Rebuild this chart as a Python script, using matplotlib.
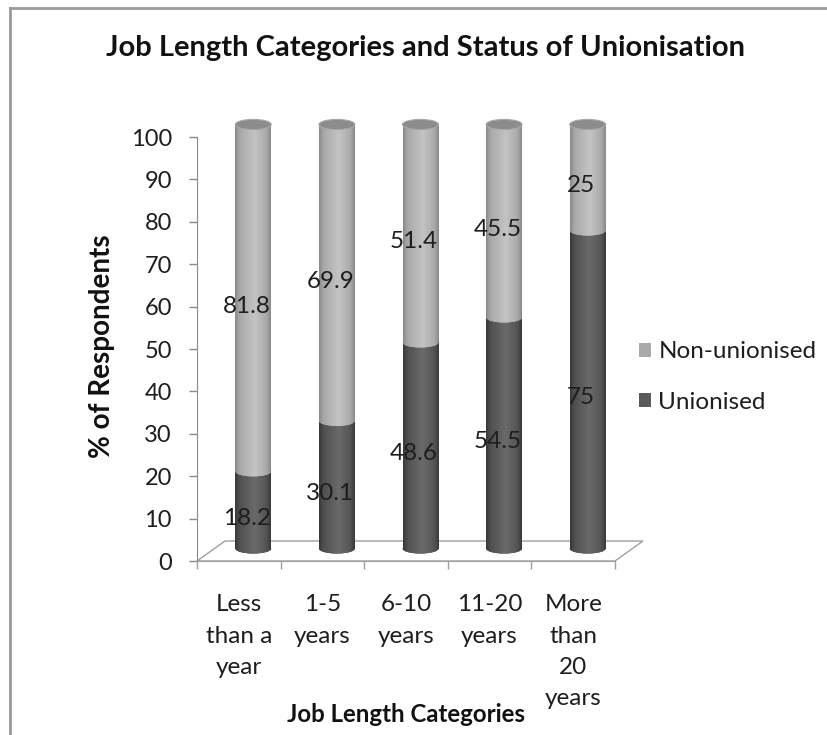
import numpy as np
import matplotlib
matplotlib.use("Agg")
import matplotlib.pyplot as plt
from matplotlib.patches import Ellipse, Patch, Polygon
from matplotlib.colors import LinearSegmentedColormap
from matplotlib.transforms import offset_copy
from matplotlib.lines import Line2D

# data
categories = ["Less\nthan a\nyear", "1-5\nyears", "6-10\nyears", "11-20\nyears", "More\nthan\n20\nyears"]
unionised = [18.2, 30.1, 48.6, 54.5, 75.0]
non_unionised = [81.8, 69.9, 51.4, 45.5, 25.0]
series_names = ["Non-unionised", "Unionised"]
yticks = list(range(0, 101, 10))

plt.rcParams['font.family'] = ['Lato', 'DejaVu Sans']

W, H = 827, 735
fig = plt.figure(figsize=(W / 100, H / 100), dpi=100)
ax = fig.add_axes([197 / W, 1 - 561 / H, 418 / W, 424 / H])

x = np.arange(len(categories))
ax.set_xlim(-0.5, len(categories) - 0.5)
ax.set_ylim(0, 100)

# 3d depth offsets (pixels)
cyl = offset_copy(ax.transData, fig=fig, x=14.5, y=12.5, units='dots')
back = offset_copy(ax.transData, fig=fig, x=28, y=20, units='dots')
lab = offset_copy(ax.transData, fig=fig, x=8, y=4, units='dots')

light_cm = LinearSegmentedColormap.from_list(
    "l", [(0, "#8a8a8a"), (0.12, "#a8a8a8"), (0.55, "#c4c4c4"), (0.88, "#aaaaaa"), (1, "#8a8a8a")])
dark_cm = LinearSegmentedColormap.from_list(
    "d", [(0, "#383838"), (0.12, "#505050"), (0.55, "#6a6a6a"), (0.88, "#545454"), (1, "#3a3a3a")])
grad = np.linspace(0, 1, 64).reshape(1, -1)

bw = 0.43
eh = 2.4
fs = 17.5


def shade(patch, x0, x1, y0, y1, cmap, z):
    im = ax.imshow(grad, extent=[x0, x1, y0, y1], aspect='auto', cmap=cmap,
                   transform=cyl, zorder=z, interpolation='bilinear')
    im.set_clip_box(fig.bbox)
    im.set_clip_path(patch)


# floor
floor_pts = [ax.transData.transform((-0.5, 0)), ax.transData.transform((4.5, 0)),
             back.transform((4.5, 0)), back.transform((-0.5, 0))]
ax.add_patch(Polygon(floor_pts, closed=True, transform=None, facecolor='white',
                     edgecolor='#a0a0a0', lw=1.0, zorder=0.5, clip_on=False))

# cylinders
bars_u = ax.bar(x, unionised, width=bw, color='#555555', transform=cyl, zorder=2, lw=0,
                clip_on=False)
bars_n = ax.bar(x, non_unionised, bottom=unionised, width=bw, color='#b5b5b5',
                transform=cyl, zorder=3, lw=0, clip_on=False)
for i in range(len(x)):
    xi, u = x[i], unionised[i]
    top = u + non_unionised[i]
    e0 = Ellipse((xi, 0), bw, eh, transform=cyl, facecolor='#555555', lw=0, zorder=1,
                 clip_on=False)
    ax.add_patch(e0)
    shade(e0, xi - bw / 2, xi + bw / 2, -eh, eh, dark_cm, 1.1)
    shade(bars_u[i], xi - bw / 2, xi + bw / 2, 0, u, dark_cm, 2.1)
    em = Ellipse((xi, u), bw, eh, transform=cyl, facecolor='#b5b5b5', lw=0, zorder=3,
                 clip_on=False)
    ax.add_patch(em)
    shade(em, xi - bw / 2, xi + bw / 2, u - eh, u + eh, light_cm, 3.1)
    shade(bars_n[i], xi - bw / 2, xi + bw / 2, u, top, light_cm, 3.1)
    ax.add_patch(Ellipse((xi, top), bw, eh, transform=cyl, facecolor='#8c8c8c',
                         edgecolor='#a8a8a8', lw=0.8, zorder=4, clip_on=False))

# data labels
for i in range(len(x)):
    u = unionised[i]
    ax.text(x[i], u / 2, f"{u:g}", transform=lab, ha='center', va='center',
            fontsize=fs, color='#1e1e1e', zorder=6)
    ax.text(x[i], u + non_unionised[i] / 2, f"{non_unionised[i]:g}", transform=lab,
            ha='center', va='center', fontsize=fs, color='#1e1e1e', zorder=6)

# axes styling
for s in ['top', 'right']:
    ax.spines[s].set_visible(False)
ax.spines['left'].set_color('#8a8a8a')
ax.spines['bottom'].set_color('#a0a0a0')
ax.set_yticks(yticks)
ax.tick_params(axis='y', length=6, width=1, color='#8a8a8a', pad=12, labelsize=17,
               labelcolor='#1e1e1e')
ax.set_xticks(x)
ax.set_xticklabels(categories, linespacing=1.6)
ax.set_xticks(np.arange(-0.5, len(categories)), minor=True)
ax.tick_params(axis='x', which='major', length=0, pad=24, labelsize=fs, labelcolor='#1e1e1e')
ax.tick_params(axis='x', which='minor', length=6, width=1, color='#a0a0a0')
ax.patch.set_visible(False)

# titles
fig.text(426 / W, 1 - 48 / H, "Job Length Categories and Status of Unionisation",
         ha='center', va='center', fontsize=21, fontweight='bold', color='#111111')
fig.text(406 / W, 1 - 715 / H, "Job Length Categories", ha='center', va='center',
         fontsize=17.3, fontweight='bold', color='#111111')
fig.text(102 / W, 1 - 346 / H, "% of Respondents", ha='center', va='center',
         rotation=90, fontsize=20, fontweight='bold', color='#111111')

# legend
handles = [Patch(facecolor='#a9a9a9', edgecolor='none'),
           Patch(facecolor='#5a5a5a', edgecolor='none')]
fig.legend(handles, series_names, loc='center left', bbox_to_anchor=(617 / W, 1 - 377 / H),
           frameon=False, fontsize=fs, handlelength=0.5, handleheight=0.5,
           handletextpad=0.3, labelspacing=1.2, labelcolor='#1e1e1e')

# chart border
fig.add_artist(Line2D([10 / W, 10 / W], [0, 1 - 8 / H], color='#9a9a9a', lw=2))
fig.add_artist(Line2D([10 / W, 1], [1 - 8 / H, 1 - 8 / H], color='#9a9a9a', lw=2))

fig.savefig("out.png", dpi=100)
